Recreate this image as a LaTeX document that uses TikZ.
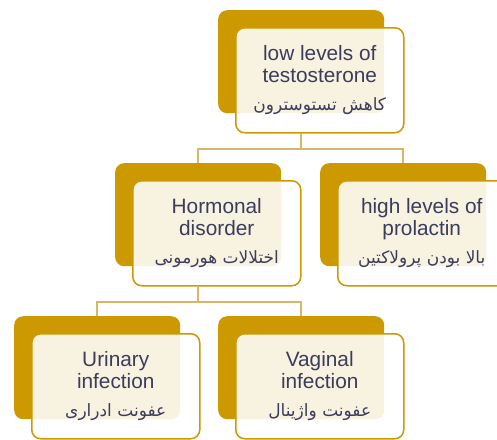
\documentclass[tikz,border=0pt]{standalone}
\usepackage{fontspec}
\setmainfont{Liberation Sans}
\newfontfamily\farsifont[Script=Arabic]{DejaVu Sans}
\TeXXeTstate=1
\usetikzlibrary{positioning}
\definecolor{figGold}{RGB}{204,153,0}
\definecolor{figLine}{RGB}{212,184,104}
\definecolor{figText}{RGB}{60,60,92}
\newcommand{\fa}[1]{{\farsifont\fontsize{17}{19}\selectfont\beginR #1\endR}}

\begin{document}
\begin{tikzpicture}[x=1pt,y=-1pt,
  back/.style={rectangle,rounded corners=9pt,fill=figGold,inner sep=0pt,
    minimum width=166pt,minimum height=103pt,anchor=north west},
  front/.style={rectangle,rounded corners=9pt,draw=figGold,line width=1.5pt,
    fill=white,fill opacity=0.88,text opacity=1,text=figText,inner sep=0pt,
    minimum width=168pt,minimum height=105pt,align=center,
    font=\fontsize{20.8}{22}\selectfont},
  link/.style={figLine,line width=2pt}]
\useasboundingbox (0,0) rectangle (497,439);
\clip (0,0) rectangle (497,439);
% back (gold) boxes
\node[back] (lowT) at (218,10) {};
\node[back] (hormo) at (115,163) {};
\node[back] (prola) at (320,163) {};
\node[back] (urin) at (14,316) {};
\node[back] (vagin) at (218,316) {};
% front boxes with the texts
\node[front,below right=17pt and 17pt of lowT.north west] (lowTf)
  {low levels of\\testosterone\\[6pt]\fa{کاهش تستوسترون}};
\node[front,below right=17pt and 17pt of hormo.north west] (hormof)
  {Hormonal\\disorder\\[6pt]\fa{اختلالات هورمونی}};
\node[front,below right=17pt and 17pt of prola.north west] (prolaf)
  {high levels of\\prolactin\\[6pt]\fa{بالا بودن پرولاکتین}};
\node[front,below right=17pt and 17pt of urin.north west] (urinf)
  {Urinary\\infection\\[6pt]\fa{عفونت ادراری}};
\node[front,below right=17pt and 17pt of vagin.north west] (vaginf)
  {Vaginal\\infection\\[6pt]\fa{عفونت واژینال}};
% connectors
\draw[link] (lowTf.south -| lowT.south) -- ++(0,15) -| (hormo.north);
\draw[link] (lowTf.south -| lowT.south) -- ++(0,15) -| (prola.north);
\draw[link] (hormof.south -| hormo.south) -- ++(0,15) -| (urin.north);
\draw[link] (hormof.south -| hormo.south) -- ++(0,15) -| (vagin.north);
\end{tikzpicture}
\end{document}
